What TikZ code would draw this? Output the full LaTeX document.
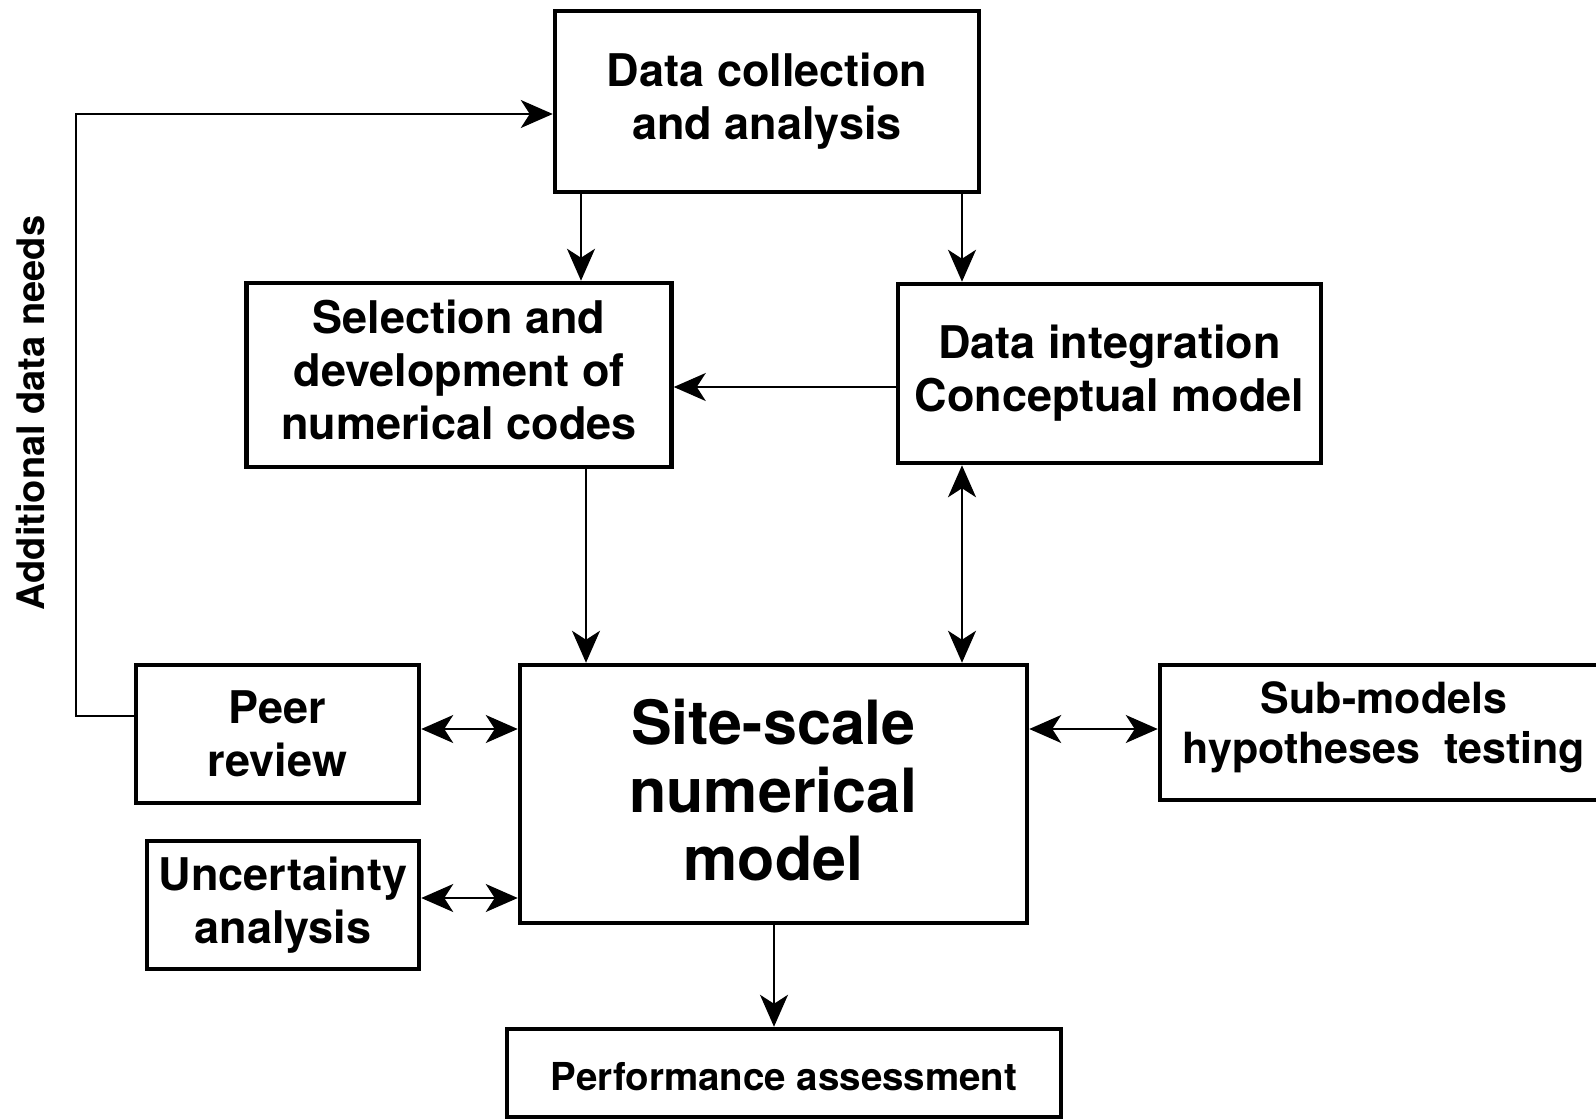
\documentclass[tikz,border=0pt]{standalone}
\usepackage{fontspec}
\setmainfont{TeX Gyre Heros}
\usetikzlibrary{arrows.meta}
\begin{document}
\begin{tikzpicture}[x=1pt,y=-1pt,
  box/.style={draw, line width=4.5pt, align=center, inner sep=0pt,
    font=\bfseries\fontsize{45}{53}\selectfont},
  tip/.tip={Stealth[length=32pt,width=28pt,inset=9pt]},
  conn/.style={line width=2pt, -tip},
  dconn/.style={line width=2pt, tip-tip}]
\useasboundingbox (0,0) rectangle (1596,1119);
\fill[white] (0,0) rectangle (1596,1119);

\node[box, minimum width=424pt, minimum height=181pt] (dc) at (767,101.5) {Data collection\\and analysis};
\node[box, minimum width=425pt, minimum height=184pt, text depth=10pt] (sel) at (459,375) {Selection and\\development of\\numerical codes};
\node[box, minimum width=423pt, minimum height=179pt] (di) at (1109.5,373.5) {Data integration\\Conceptual model};
\node[box, minimum width=507pt, minimum height=258pt, text depth=8pt, font=\bfseries\fontsize{61}{68}\selectfont] (site) at (773.5,794) {Site-scale\\numerical\\model};
\node[box, minimum width=283pt, minimum height=138pt] (peer) at (277.5,734) {Peer\\review};
\node[box, minimum width=272pt, minimum height=128pt] (unc) at (283,905) {Uncertainty\\analysis};
\node[box, minimum width=448pt, minimum height=135pt, text depth=19pt, font=\bfseries\fontsize{43}{50}\selectfont] (sub) at (1384,732.5) {Sub-models\\hypotheses~~testing};
\node[box, minimum width=554pt, minimum height=88pt, text height=36pt, font=\bfseries\fontsize{38.5}{45}\selectfont] (perf) at (784,1073) {Performance assessment};
\node[rotate=90, font=\bfseries\fontsize{38}{44}\selectfont] (adn) at (31,413) {Additional data needs};

\coordinate (xa) at (581,0);
\coordinate (xb) at (962,0);
\coordinate (xc) at (586,0);
\coordinate (xd) at (774,0);
\coordinate (ya) at (0,387);
\coordinate (yb) at (0,729);
\coordinate (yc) at (0,898);
\coordinate (lt) at (76,114);
\coordinate (lb) at (76,716);

\draw[conn] (dc.south -| xa) -- (sel.north -| xa);
\draw[conn] (dc.south -| xb) -- (di.north -| xb);
\draw[conn] (di.west |- ya) -- (sel.east |- ya);
\draw[conn] (sel.south -| xc) -- (site.north -| xc);
\draw[dconn] (di.south -| xb) -- (site.north -| xb);
\draw[dconn] (peer.east |- yb) -- (site.west |- yb);
\draw[dconn] (unc.east |- yc) -- (site.west |- yc);
\draw[dconn] (site.east |- yb) -- (sub.west |- yb);
\draw[conn] (site.south -| xd) -- (perf.north -| xd);
\draw[conn] (peer.west |- lb) -- (lb) -- (lt) -- (dc.west |- lt);
\end{tikzpicture}
\end{document}
